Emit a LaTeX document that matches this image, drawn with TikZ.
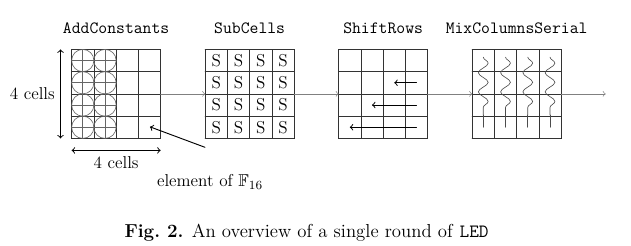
\documentclass[tikz,border=0pt]{standalone}
\usepackage{amsmath,amssymb}
\usepackage{tikz}
\usetikzlibrary{decorations.pathmorphing}
\usepackage{xcolor}

\begin{document}
\begin{tikzpicture}[x=0.5cm,y=0.5cm,>=to,font=\fontsize{11}{13}\selectfont,line cap=round]
\tikzset{state/.style={draw,semithick,minimum size=2cm,inner sep=0pt,outer sep=0pt},
  title/.style={font=\ttfamily\fontsize{11}{13}\selectfont},
  flowline/.style={gray,->},
  cellgrid/.style={black!80,thin},
  xorline/.style={black!60}}
\useasboundingbox (-3.22,-4.80) rectangle (25.14,6.22);
% the four states
\node[state] (add) at (2,2) {};
\node[state] (sub) at (8,2) {};
\node[state] (shift) at (14,2) {};
\node[state] (mix) at (20,2) {};
\foreach \s in {add,sub,shift,mix}
  \draw[cellgrid] (\s.south west) grid[step=0.5cm] (\s.north east);
\node[title] (addtitle) at (2,4.95) {AddConstants};
\node[title] (subtitle) at (8,4.95) {SubCells};
\node[title] (shifttitle) at (14,4.95) {ShiftRows};
\node[title] (mixtitle) at (20,4.95) {MixColumnsSerial};
% flow
\coordinate (out) at (24,2);
\draw[flowline] (add.east) -- (sub.west);
\draw[flowline] (sub.east) -- (shift.west);
\draw[flowline] (shift.east) -- (mix.west);
\draw[flowline] (mix.east) -- (out);
% AddConstants: xor in the first two columns
\foreach \c in {0,1}
  \foreach \r in {0,...,3} {
    \draw[xorline] (\c+0.5,\r+0.5) circle (0.5);
    \draw[xorline] (\c+0.5,\r) -- (\c+0.5,\r+1);
    \draw[xorline] (\c,\r+0.5) -- (\c+1,\r+0.5);
  }
\draw[<->,semithick] ([xshift=-0.25cm]add.south west) -- ([xshift=-0.25cm]add.north west)
  node[midway,left] (hlabel) {4 cells};
\draw[<->,semithick] ([yshift=-0.27cm]add.south west) -- ([yshift=-0.27cm]add.south east);
\node (wlabel) at (2,-1.1) {4 cells};
\node (elem) at (6.22,-1.95) {element of $\mathbb{F}_{16}$};
\coordinate (tail) at (5.99,-0.40);
\coordinate (cell) at (3.52,0.52);
\draw[->,semithick] (tail) -- (cell);
% SubCells
\foreach \c in {0,...,3}
  \foreach \r in {0,...,3}
    \node (s-\c-\r) at (6.5+\c,0.5+\r) {S};
% ShiftRows
\foreach \r in {1,2,3} {
  \coordinate (from\r) at (15.5,3.5-\r);
  \coordinate (to\r) at (15.5-\r,3.5-\r);
  \draw[->,semithick] (from\r) -- (to\r);
}
% MixColumnsSerial
\foreach \c in {0,...,3} {
  \draw[black!70,decorate,decoration={snake,amplitude=0.11cm,segment length=0.43cm}]
    (18.5+\c,3.65) -- (18.5+\c,1.05);
  \draw[black!70] (18.5+\c,1.05) -- (18.5+\c,0.5);
}
\node (caption) at (10.56,-4.26) {\fontsize{12}{14}\selectfont\textbf{Fig.\ 2.} An overview of a single round of \texttt{LED}};
\end{tikzpicture}
\end{document}
